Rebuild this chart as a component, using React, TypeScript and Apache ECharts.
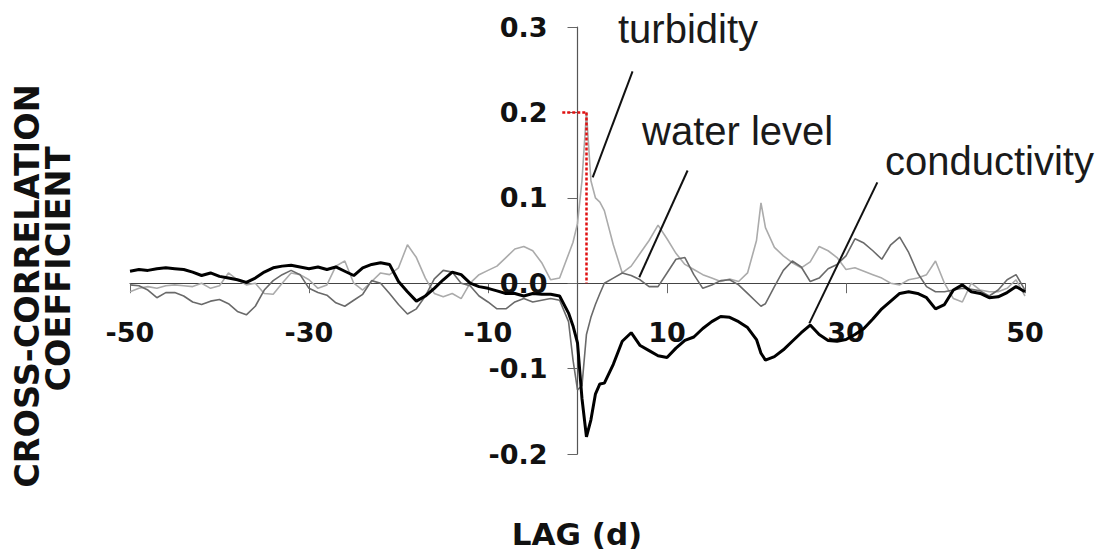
import React, { useEffect, useRef } from "react";
import * as echarts from "echarts";

// LAG (d)
const lags = [
  -50, -49, -48, -47, -46, -45, -44, -43, -42, -41,
  -40, -39, -38, -37, -36, -35, -34, -33, -32, -31,
  -30, -29, -28, -27, -26, -25, -24, -23, -22, -21,
  -20, -19, -18, -17, -16, -15, -14, -13, -12, -11,
  -10, -9, -8, -7, -6, -5, -4, -3, -2, -1,
  -0.5, 0, 0.5, 1, 1.5, 2, 2.5, 3,
  4, 5, 6, 7, 8, 9, 10, 11, 12, 13, 14, 15, 16, 17, 18, 19, 20,
  20.5,
  21, 22, 23, 24, 25, 26, 27, 28, 29, 30,
  31, 32, 33, 34, 35, 36, 37, 38, 39, 40,
  41, 42, 43, 44, 45, 46, 47, 48, 49, 50,
];

const turbidity = [
  -0.01, -0.006, -0.004, -0.006, -0.003, -0.002, -0.003, -0.004, 0.0, -0.006,
  -0.003, 0.012, 0.004, -0.002, 0.0, -0.012, -0.013, 0.0, 0.012, 0.01,
  0.004, -0.006, -0.002, 0.02, 0.026, 0.0, -0.008, 0.002, 0.012, 0.01,
  0.018, 0.045, 0.03, 0.006, -0.012, -0.016, -0.012, -0.018, 0.0, 0.01,
  0.015, 0.02, 0.03, 0.04, 0.043, 0.038, 0.024, 0.004, 0.006, 0.034,
  0.048, 0.07, 0.12, 0.2, 0.12, 0.1, 0.095, 0.085,
  0.045, 0.012, 0.02, 0.035, 0.05, 0.068, 0.052, 0.035, 0.022, 0.016, 0.01, 0.006, 0.002, 0.005, 0.002, 0.012, 0.05,
  0.094,
  0.065, 0.042, 0.032, 0.024, 0.018, 0.025, 0.043, 0.038, 0.03, 0.016,
  0.018, 0.014, 0.01, 0.006, 0.0, -0.002, 0.004, 0.006, 0.01, 0.026,
  0.0, -0.018, -0.022, 0.0, -0.008, -0.01, -0.01, -0.006, 0.004, -0.015,
];

const waterLevel = [
  -0.002, -0.003, -0.008, -0.017, -0.011, -0.011, -0.015, -0.022, -0.025, -0.021,
  -0.019, -0.024, -0.033, -0.037, -0.027, -0.008, 0.003, 0.01, 0.015, 0.01,
  -0.006, -0.011, -0.014, -0.023, -0.027, -0.02, -0.013, 0.003, 0.0, -0.012,
  -0.025, -0.036, -0.03, -0.015, 0.005, 0.015, 0.013, 0.0, -0.003, -0.015,
  -0.022, -0.03, -0.03, -0.022, -0.018, -0.022, -0.02, -0.018, -0.02, -0.045,
  -0.09, -0.125, -0.12, -0.06, -0.04, -0.025, -0.012, 0.0,
  0.006, 0.012, 0.009, 0.004, -0.004, -0.004, 0.012, 0.028, 0.03, 0.01, -0.006, -0.002, 0.003, 0.004, -0.002, -0.012, -0.022,
  -0.027,
  -0.024, -0.004, 0.015, 0.026, 0.019, 0.002, 0.006, 0.017, 0.022, 0.032,
  0.052, 0.047, 0.038, 0.028, 0.045, 0.054, 0.036, 0.012, -0.004, -0.01,
  -0.01, -0.008, -0.006, -0.007, -0.009, -0.015, -0.008, 0.004, 0.01, -0.008,
];

const conductivity = [
  0.014, 0.016, 0.015, 0.017, 0.018, 0.017, 0.016, 0.013, 0.009, 0.012,
  0.008, 0.006, 0.004, 0.001, 0.006, 0.013, 0.018, 0.02, 0.021, 0.019,
  0.017, 0.019, 0.016, 0.019, 0.014, 0.009, 0.018, 0.022, 0.024, 0.022,
  0.002, -0.01, -0.021, -0.015, -0.006, 0.004, 0.013, 0.01, 0.0, -0.004,
  -0.006, -0.009, -0.012, -0.012, -0.015, -0.012, -0.013, -0.013, -0.015, -0.035,
  -0.05, -0.07, -0.135, -0.18, -0.16, -0.13, -0.118, -0.117,
  -0.095, -0.068, -0.058, -0.073, -0.079, -0.085, -0.087, -0.076, -0.067, -0.063, -0.053, -0.045, -0.039, -0.04, -0.045, -0.052, -0.066,
  -0.082,
  -0.09, -0.086, -0.078, -0.068, -0.058, -0.049, -0.06, -0.067, -0.068, -0.066,
  -0.06, -0.053, -0.042, -0.03, -0.021, -0.012, -0.01, -0.012, -0.017, -0.03,
  -0.025, -0.008, -0.002, -0.01, -0.012, -0.017, -0.016, -0.011, -0.004, -0.01,
];

const xTickValues = [-50, -30, -10, 10, 30, 50];
const X_MIN = -50;
const X_MAX = 50;
const Y_MIN = -0.2;
const Y_MAX = 0.3;

// annotation leader lines in data units [lag, coefficient]
const turbidityPointer = [[6.15, 0.248], [1.7, 0.124]];
const waterPointer = [[12.3, 0.132], [6.9, 0.007]];
const conductivityPointer = [[33.5, 0.118], [25.9, -0.047]];
const peakGuideH = [[-1.7, 0.2], [1, 0.2]];
const peakGuideV = [[1, 0.2], [1, 0]];

const BOLD_FONT = "DejaVu Sans";
const ANNOT_FONT = "'Liberation Sans', Arial, sans-serif";

const W = 1107;
const H = 556;
const GRID = { left: 130, right: 82, top: 27, bottom: 102 };

export default function App() {
  const ref = useRef<HTMLDivElement>(null);

  useEffect(() => {
    document.body.style.margin = "0";
    const chart = echarts.init(ref.current as HTMLDivElement, null, { renderer: "svg" });
    const pair = (vals: number[]) => lags.map((l, i) => [l, vals[i]]);
    const black = { color: "#111", width: 2, type: "solid" };
    const red = { color: "#e01010", width: 2.5, type: [3, 2] };
    const seg = (p: number[][], style: any) => [
      { coord: p[0], lineStyle: style },
      { coord: p[1], lineStyle: style },
    ];

    // move the axes so they cross at (0, 0), labels included
    const gridW = W - GRID.left - GRID.right;
    const gridH = H - GRID.top - GRID.bottom;
    const yAxisOffset = -gridW * ((0 - X_MIN) / (X_MAX - X_MIN));
    const xAxisOffset = -gridH * ((0 - Y_MIN) / (Y_MAX - Y_MIN));

    chart.setOption({
      animation: false,
      backgroundColor: "#ffffff",
      grid: { ...GRID, containLabel: false },
      xAxis: {
        type: "value",
        position: "bottom",
        offset: xAxisOffset,
        min: X_MIN,
        max: X_MAX,
        interval: 10,
        axisLine: { show: true, onZero: false, lineStyle: { color: "#444", width: 1.2 } },
        axisTick: { show: true, length: 10, customValues: xTickValues, lineStyle: { color: "#666" } },
        axisLabel: {
          customValues: xTickValues,
          margin: 36,
          fontFamily: BOLD_FONT,
          fontWeight: "bold",
          fontSize: 27,
          color: "#111",
        },
        splitLine: { show: false },
      },
      yAxis: {
        type: "value",
        position: "left",
        offset: yAxisOffset,
        min: Y_MIN,
        max: Y_MAX,
        interval: 0.1,
        axisLine: { show: true, onZero: false, lineStyle: { color: "#555", width: 1.2 } },
        axisTick: { show: true, length: 10, lineStyle: { color: "#666" } },
        axisLabel: {
          margin: 30,
          formatter: (v: number) => v.toFixed(1),
          fontFamily: BOLD_FONT,
          fontWeight: "bold",
          fontSize: 27,
          color: "#111",
        },
        splitLine: { show: false },
      },
      series: [
        {
          name: "turbidity",
          type: "line",
          data: pair(turbidity),
          showSymbol: false,
          symbol: "none",
          lineStyle: { color: "#ababab", width: 1.6 },
          itemStyle: { color: "#ababab" },
          z: 2,
        },
        {
          name: "water level",
          type: "line",
          data: pair(waterLevel),
          showSymbol: false,
          symbol: "none",
          lineStyle: { color: "#6a6a6a", width: 1.6 },
          itemStyle: { color: "#6a6a6a" },
          z: 3,
        },
        {
          name: "conductivity",
          type: "line",
          data: pair(conductivity),
          showSymbol: false,
          symbol: "none",
          lineStyle: { color: "#000", width: 3 },
          itemStyle: { color: "#000" },
          z: 4,
          markLine: {
            silent: true,
            animation: false,
            symbol: ["none", "none"],
            label: { show: false },
            emphasis: { disabled: true },
            data: [
              seg(turbidityPointer, black),
              seg(waterPointer, black),
              seg(conductivityPointer, black),
              seg(peakGuideH, red),
              seg(peakGuideV, red),
            ],
          },
        },
      ],
      graphic: [
        {
          type: "text",
          x: 27,
          y: 286,
          rotation: Math.PI / 2,
          style: {
            text: "CROSS-CORRELATION",
            fontFamily: BOLD_FONT,
            fontWeight: "bold",
            fontSize: 33.5,
            fill: "#111",
            align: "center",
            verticalAlign: "middle",
          },
        },
        {
          type: "text",
          x: 58,
          y: 269,
          rotation: Math.PI / 2,
          style: {
            text: "COEFFICIENT",
            fontFamily: BOLD_FONT,
            fontWeight: "bold",
            fontSize: 33.5,
            fill: "#111",
            align: "center",
            verticalAlign: "middle",
          },
        },
        {
          type: "text",
          x: 577,
          y: 534,
          style: {
            text: "LAG (d)",
            fontFamily: BOLD_FONT,
            fontWeight: "bold",
            fontSize: 31,
            fill: "#111",
            align: "center",
            verticalAlign: "middle",
          },
        },
        {
          type: "text",
          x: 618,
          y: 29,
          style: {
            text: "turbidity",
            fontFamily: ANNOT_FONT,
            fontSize: 40,
            fill: "#1a1a1a",
            align: "left",
            verticalAlign: "middle",
          },
        },
        {
          type: "text",
          x: 642,
          y: 131,
          style: {
            text: "water level",
            fontFamily: ANNOT_FONT,
            fontSize: 40,
            fill: "#1a1a1a",
            align: "left",
            verticalAlign: "middle",
          },
        },
        {
          type: "text",
          x: 885,
          y: 161,
          style: {
            text: "conductivity",
            fontFamily: ANNOT_FONT,
            fontSize: 40,
            fill: "#1a1a1a",
            align: "left",
            verticalAlign: "middle",
          },
        },
      ],
    });

    return () => chart.dispose();
  }, []);

  return <div ref={ref} style={{ width: W, height: H }} />;
}
